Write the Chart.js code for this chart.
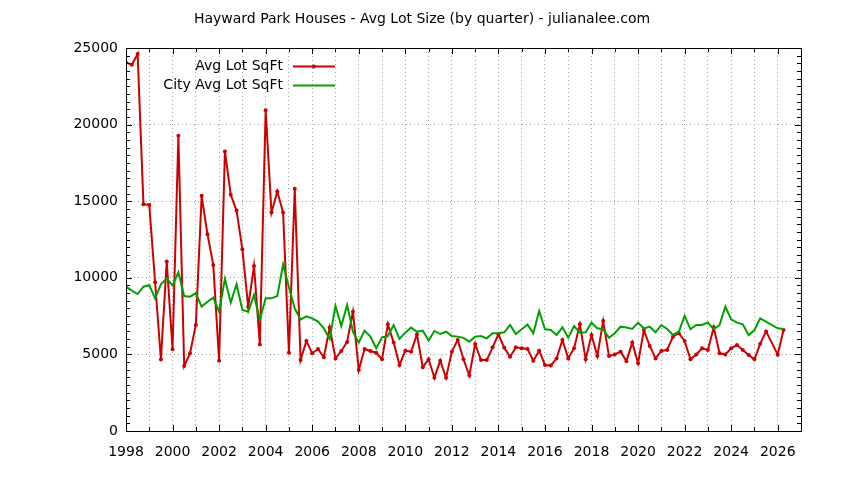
<!DOCTYPE html>
<html>
<head>
<meta charset="utf-8">
<title>Hayward Park Houses - Avg Lot Size</title>
<script src="https://cdn.jsdelivr.net/npm/chart.js@4.4.1/dist/chart.umd.min.js"></script>
<style>
  html, body { margin: 0; padding: 0; background: #fff; }
  #wrap { width: 844px; height: 480px; }
</style>
</head>
<body>
<div id="wrap"><canvas id="lotChart" width="844" height="480"></canvas></div>
<script>
// quarterly data, first quarter of 1998 onwards
const startYear = 1998;
const xMin = 1998;
const xMax = 2027;
const yMax = 25000;
const yearLabels = ['1998', '2000', '2002', '2004', '2006', '2008', '2010', '2012', '2014', '2016', '2018', '2020', '2022', '2024', '2026'];

const avgLot = [
  24060, 23910, 24610, 14800,
  14760, 9710, 4670, 11060,
  5330, 19270, 4240, 5070,
  6920, 15350, 12850, 10840,
  4590, 18250, 15420, 14390,
  11860, 8110, 10770, 5650,
  20930, 14260, 15630, 14260,
  5110, 15810, 4630, 5880,
  5070, 5350, 4810, 6750,
  4740, 5220, 5810, 7790,
  3980, 5350, 5220, 5110,
  4680, 6960, 5770, 4310,
  5240, 5180, 6310, 4160,
  4680, 3480, 4590, 3480,
  5180, 5940, 4680, 3620,
  5680, 4630, 4630, 5460,
  6310, 5440, 4850, 5460,
  5400, 5350, 4590, 5240,
  4310, 4270, 4740, 5940,
  4740, 5400, 6960, 4680,
  6270, 4900, 7180, 4900,
  5000, 5180, 4560, 5770,
  4420, 6590, 5550, 4740,
  5220, 5290, 6160, 6380,
  5880, 4680, 5000, 5400,
  5290, 6770, 5070, 5000,
  5400, 5610, 5290, 4960,
  4680, 5700, 6500, null,
  4980, 6590
];

const cityAvgLot = [
  9420, 9160, 8940, 9420,
  9530, 8660, 9580, 9970,
  9490, 10360, 8810, 8770,
  8990, 8120, 8440, 8710,
  7790, 9930, 8380, 9580,
  7900, 7790, 8880, 7250,
  8660, 8660, 8810, 10880,
  9380, 8010, 7270, 7480,
  7350, 7140, 6700, 6000,
  8160, 6850, 8230, 6480,
  5770, 6550, 6160, 5400,
  6110, 6200, 6920, 6010,
  6420, 6750, 6480, 6550,
  5900, 6530, 6330, 6480,
  6200, 6160, 6080, 5830,
  6160, 6200, 6050, 6380,
  6380, 6440, 6920, 6330,
  6640, 6960, 6380, 7830,
  6640, 6590, 6270, 6770,
  6090, 6850, 6420, 6440,
  7070, 6700, 6640, 6090,
  6380, 6810, 6750, 6660,
  7070, 6700, 6810, 6440,
  6920, 6660, 6270, 6480,
  7530, 6640, 6920, 6920,
  7090, 6640, 6920, 8120,
  7290, 7070, 6960, 6250,
  6590, 7350, null, null,
  6700, 6660
];

const FONT = '"DejaVu Sans", Verdana, sans-serif';
const RED = '#cc0000';
const GREEN = '#00a000';

function toPoints(values) {
  return values.map((v, i) => ({ x: startYear + i / 4, y: v }));
}

// gnuplot style frame, mirrored tics, title and key
const gnuplotFrame = {
  id: 'gnuplotFrame',
  afterDraw(chart) {
    const ctx = chart.ctx;
    const a = chart.chartArea;
    const xs = chart.scales.x;
    const ys = chart.scales.y;
    ctx.save();
    ctx.strokeStyle = '#000';
    ctx.lineWidth = 1;
    ctx.strokeRect(Math.round(a.left) + 0.5, Math.round(a.top) + 0.5,
      Math.round(a.right - a.left), Math.round(a.bottom - a.top));

    ctx.beginPath();
    for (let v = 0; v <= yMax; v += 500) {
      const py = Math.round(ys.getPixelForValue(v)) + 0.5;
      const len = v % 5000 === 0 ? 6 : 4;
      ctx.moveTo(a.left, py); ctx.lineTo(a.left + len, py);
      ctx.moveTo(a.right, py); ctx.lineTo(a.right - len, py);
    }
    for (let yr = xMin; yr <= xMax; yr++) {
      const px = Math.round(xs.getPixelForValue(yr)) + 0.5;
      const len = yr % 2 === 0 ? 6 : 4;
      ctx.moveTo(px, a.bottom); ctx.lineTo(px, a.bottom - len);
      ctx.moveTo(px, a.top); ctx.lineTo(px, a.top + len);
    }
    ctx.stroke();

    // title
    ctx.fillStyle = '#000';
    ctx.font = '14px ' + FONT;
    ctx.textAlign = 'center';
    ctx.textBaseline = 'middle';
    ctx.fillText('Hayward Park Houses - Avg Lot Size (by quarter) - julianalee.com', 422, 19);

    // key
    const keys = [
      { label: chart.data.datasets[0].label, color: RED, point: true, y: 66 },
      { label: chart.data.datasets[1].label, color: GREEN, point: false, y: 85 }
    ];
    ctx.textAlign = 'right';
    keys.forEach(k => {
      ctx.fillStyle = '#000';
      ctx.fillText(k.label, 283, k.y);
      ctx.strokeStyle = k.color;
      ctx.lineWidth = 2;
      ctx.beginPath();
      ctx.moveTo(293, k.y + 0.5);
      ctx.lineTo(335, k.y + 0.5);
      ctx.stroke();
      if (k.point) {
        ctx.fillStyle = k.color;
        ctx.beginPath();
        ctx.arc(314, k.y + 0.5, 2, 0, Math.PI * 2);
        ctx.fill();
      }
    });
    ctx.restore();
  }
};

const config = {
  type: 'line',
  data: {
    datasets: [{
      label: 'Avg Lot SqFt',
      data: toPoints(avgLot),
      borderColor: RED,
      backgroundColor: RED,
      borderWidth: 2,
      pointRadius: 2,
      pointBorderWidth: 0,
      pointBackgroundColor: RED,
      tension: 0,
      spanGaps: true,
      order: 1
    }, {
      label: 'City Avg Lot SqFt',
      data: toPoints(cityAvgLot),
      borderColor: GREEN,
      backgroundColor: GREEN,
      borderWidth: 2,
      pointRadius: 0,
      tension: 0,
      spanGaps: true,
      order: 0
    }]
  },
  options: {
    responsive: false,
    animation: false,
    events: [],
    layout: { padding: { left: 0, right: 43, top: 48, bottom: 0 } },
    plugins: {
      legend: { display: false },
      title: { display: false },
      tooltip: { enabled: false }
    },
    scales: {
      x: {
        type: 'linear',
        min: xMin,
        max: xMax,
        afterFit: s => { s.height = 49; },
        border: { display: false, dash: [1, 3] },
        grid: { color: '#a4a4a4', lineWidth: 1, drawTicks: false },
        ticks: {
          stepSize: 1,
          autoSkip: false,
          maxRotation: 0,
          padding: 13,
          color: '#000',
          font: { family: FONT, size: 14 },
          callback: v => yearLabels.includes(String(v)) ? String(v) : ''
        }
      },
      y: {
        min: 0,
        max: yMax,
        afterFit: s => { s.width = 126; },
        border: { display: false, dash: [1, 3] },
        grid: { color: '#a4a4a4', lineWidth: 1, drawTicks: false },
        ticks: {
          stepSize: 5000,
          padding: 8,
          color: '#000',
          font: { family: FONT, size: 14 },
          callback: v => String(v)
        }
      }
    }
  },
  plugins: [gnuplotFrame]
};

const lotChart = new Chart(document.getElementById('lotChart'), config);
</script>
</body>
</html>
